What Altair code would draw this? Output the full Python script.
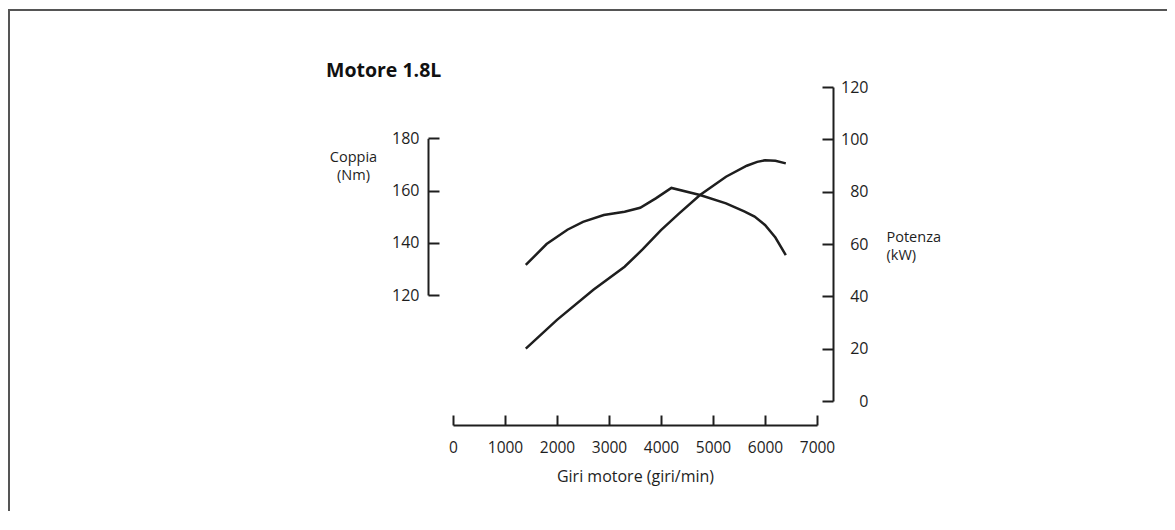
import altair as alt
import pandas as pd

# ---- data ----
rpm_torque = [1400, 1800, 2200, 2500, 2900, 3300, 3600, 3900, 4200, 4750, 5250, 5600, 5800, 6000, 6200, 6400]
torque_nm = [131.5, 139.5, 145.0, 148.0, 150.6, 151.9, 153.4, 157.0, 161.0, 158.3, 155.1, 152.0, 150.0, 146.8, 142.0, 135.3]

rpm_power = [1400, 2000, 2700, 3300, 3650, 4000, 4350, 4750, 5250, 5650, 5850, 6000, 6200, 6400]
power_kw = [20.0, 31.0, 42.5, 51.3, 58.0, 65.3, 71.7, 78.7, 85.7, 89.9, 91.4, 92.0, 91.8, 90.8]

x_ticks = [0, 1000, 2000, 3000, 4000, 5000, 6000, 7000]
torque_ticks = [120, 140, 160, 180]
power_ticks = [0, 20, 40, 60, 80, 100, 120]

chart_title = ["Motore 1.8L"]
x_title = "Giri motore (giri/min)"
torque_title = ["Coppia", "(Nm)"]
power_title = ["Potenza", "(kW)"]

df_t = pd.DataFrame({"rpm": rpm_torque, "coppia": torque_nm})
df_p = pd.DataFrame({"rpm": rpm_power, "potenza": power_kw})
df_title = pd.DataFrame({"titolo": chart_title})

FONT = "Open Sans"
INK = "#1e1e1e"
W, H = 364, 314

x_enc = alt.X(
    "rpm:Q",
    scale=alt.Scale(domain=[0, 7000], nice=False, zero=False),
    axis=alt.Axis(
        values=x_ticks, orient="bottom", offset=24, grid=False,
        tickSize={"expr": "-10"}, tickWidth=2, domainWidth=2,
        tickColor=INK, domainColor=INK, labelColor=INK,
        labelPadding=25, labelFlush=False, labelFont=FONT, labelFontSize=15.5,
        title=x_title, titleFont=FONT, titleFontSize=16, titleFontWeight="normal",
        titleColor=INK, titlePadding=13, format="d",
    ),
)

torque_line = alt.Chart(df_t).mark_line(
    color=INK, strokeWidth=2.5, interpolate="linear"
).encode(
    x=x_enc,
    y=alt.Y(
        "coppia:Q",
        scale=alt.Scale(domain=[120, 180], range=[208, 51.3], nice=False, zero=False),
        axis=alt.Axis(
            values=torque_ticks, orient="left", offset=25, grid=False,
            tickSize={"expr": "-11"}, tickWidth=2, domainWidth=2,
            tickColor=INK, domainColor=INK, labelColor=INK,
            labelPadding=20, labelFont=FONT, labelFontSize=16, labelAlign="right",
            title=torque_title, titleAngle=0, titleAlign="center", titleBaseline="top",
            titleX=-75, titleY=63, titleFont=FONT, titleFontSize=14.5,
            titleFontWeight="normal", titleColor=INK, titleLineHeight=18,
        ),
    ),
)

power_line = alt.Chart(df_p).mark_line(
    color=INK, strokeWidth=2.5, interpolate="linear"
).encode(
    x=x_enc,
    y=alt.Y(
        "potenza:Q",
        scale=alt.Scale(domain=[0, 120], nice=False, zero=False),
        axis=alt.Axis(
            values=power_ticks, orient="right", offset=16, grid=False,
            tickSize={"expr": "-11"}, tickWidth=2, domainWidth=2,
            tickColor=INK, domainColor=INK, labelColor=INK,
            labelPadding=46, labelFont=FONT, labelFontSize=16, labelAlign="right",
            title=power_title, titleAngle=0, titleAlign="left", titleBaseline="top",
            titleX=53, titleY=143, titleFont=FONT, titleFontSize=14.5,
            titleFontWeight="normal", titleColor=INK, titleLineHeight=18,
        ),
    ),
)

title_text = alt.Chart(df_title).mark_text(
    align="left", baseline="alphabetic", font=FONT, fontSize=19.5,
    fontWeight="bold", color="#111111",
).encode(text="titolo:N", x=alt.value(-127), y=alt.value(-10))

frame_df = pd.DataFrame({"k": [0]})
top_border = alt.Chart(frame_df).mark_rule(color="#555555", strokeWidth=2).encode(
    x=alt.value(-445), x2=alt.value(720), y=alt.value(-77)
)
left_border = alt.Chart(frame_df).mark_rule(color="#555555", strokeWidth=2).encode(
    x=alt.value(-444), y=alt.value(-78), y2=alt.value(440)
)

chart = (
    alt.layer(torque_line, power_line, title_text, top_border, left_border)
    .resolve_scale(y="independent")
    .properties(
        width=W, height=H,
        autosize=alt.AutoSizeParams(type="none"),
        padding={"left": 445, "top": 79, "right": 350, "bottom": 110},
    )
    .configure(background="white")
    .configure_view(strokeWidth=0, stroke="transparent")
)

chart.save("out.html", embed_options={"renderer": "svg", "actions": False})
